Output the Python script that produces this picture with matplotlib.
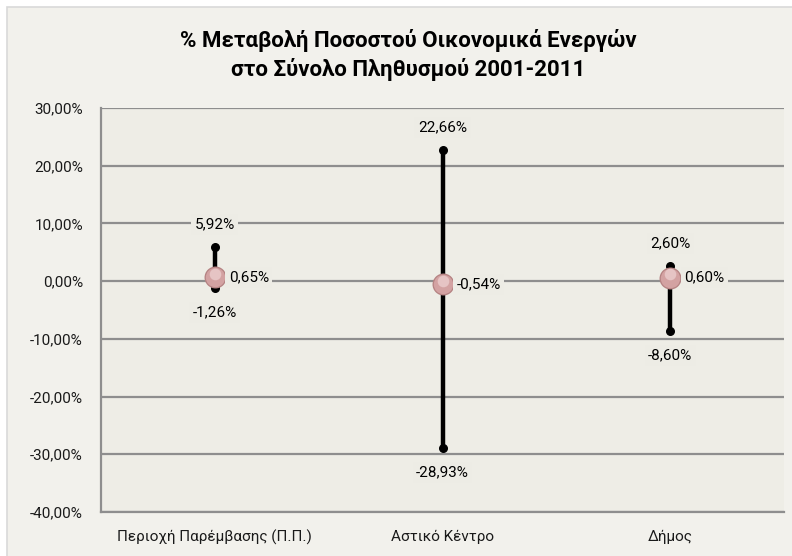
import matplotlib.pyplot as plt
from matplotlib.patches import Rectangle

plt.rcParams['font.family'] = ['Roboto', 'DejaVu Sans']

categories = ['Περιοχή Παρέμβασης (Π.Π.)', 'Αστικό Κέντρο', 'Δήμος']
high = [5.92, 22.66, 2.60]
low = [-1.26, -28.93, -8.60]
mid = [0.65, -0.54, 0.60]
yticks = [30, 20, 10, 0, -10, -20, -30, -40]


def pct(v):
    return ('%.2f%%' % v).replace('.', ',')


fig = plt.figure(figsize=(7.92, 5.56), dpi=100)
fig.patch.set_facecolor('white')
# chart area with thin border
fig.patches.append(Rectangle((7 / 792, -0.01), 1.0, 1 - 7 / 556 + 0.01,
                             transform=fig.transFigure, facecolor='#F2F1EC',
                             edgecolor='#D9D9D9', linewidth=1.2, zorder=-5))

ax = fig.add_axes([101 / 792, 44 / 556, 683 / 792, 404 / 556])
ax.set_facecolor('#EEEDE6')

x = list(range(len(categories)))
ax.set_xlim(-0.5, len(categories) - 0.5)
ax.set_ylim(-40, 30)

for yv in yticks:
    ax.axhline(yv, color='#8E8E8E', linewidth=1.6, zorder=1)

ax.vlines(x, low, high, color='black', linewidth=3.2, zorder=3)
ax.scatter(x, high, s=30, color='black', zorder=4)
ax.scatter(x, low, s=30, color='black', zorder=4)

# pink sphere markers
ax.scatter(x, mid, s=250, color='#B58383', zorder=5, linewidths=0)
ax.scatter(x, mid, s=195, color='#D3A2A2', zorder=6, linewidths=0)
ax.scatter(x, [m + 0.6 for m in mid], s=70,
           color='#E6C4C4', zorder=7, linewidths=0)

box = dict(facecolor='#EDECE5', edgecolor='none', pad=2.5)
for xi, h, l, m in zip(x, high, low, mid):
    ax.annotate(pct(h), (xi, h), xytext=(0, 16.5), textcoords='offset points',
                ha='center', va='center', fontsize=11, bbox=box, zorder=8)
    ax.annotate(pct(l), (xi, l), xytext=(0, -17.5), textcoords='offset points',
                ha='center', va='center', fontsize=11, bbox=box, zorder=8)
    ax.annotate(pct(m), (xi, m), xytext=(10, 0), textcoords='offset points',
                ha='left', va='center', fontsize=11, bbox=box, zorder=8)

ax.set_yticks(yticks)
ax.set_yticklabels([pct(v) for v in yticks], fontsize=11, color='#1A1A1A')
ax.set_xticks(x)
ax.set_xticklabels(categories, fontsize=11, color='#1A1A1A')
ax.tick_params(axis='y', length=0, pad=13)
ax.tick_params(axis='x', length=0, pad=13)

for side in ['top', 'right']:
    ax.spines[side].set_visible(False)
ax.spines['left'].set_color('#8E8E8E')
ax.spines['left'].set_linewidth(1.6)
ax.spines['bottom'].set_color('#8E8E8E')
ax.spines['bottom'].set_linewidth(1.6)

fig.text(0.515, 1 - 55 / 556, '% Μεταβολή Ποσοστού Οικονομικά Ενεργών\nστο Σύνολο Πληθυσμού 2001-2011',
         ha='center', va='center', fontsize=16, fontweight='bold', linespacing=1.3)

fig.savefig('out.png', dpi=100)
